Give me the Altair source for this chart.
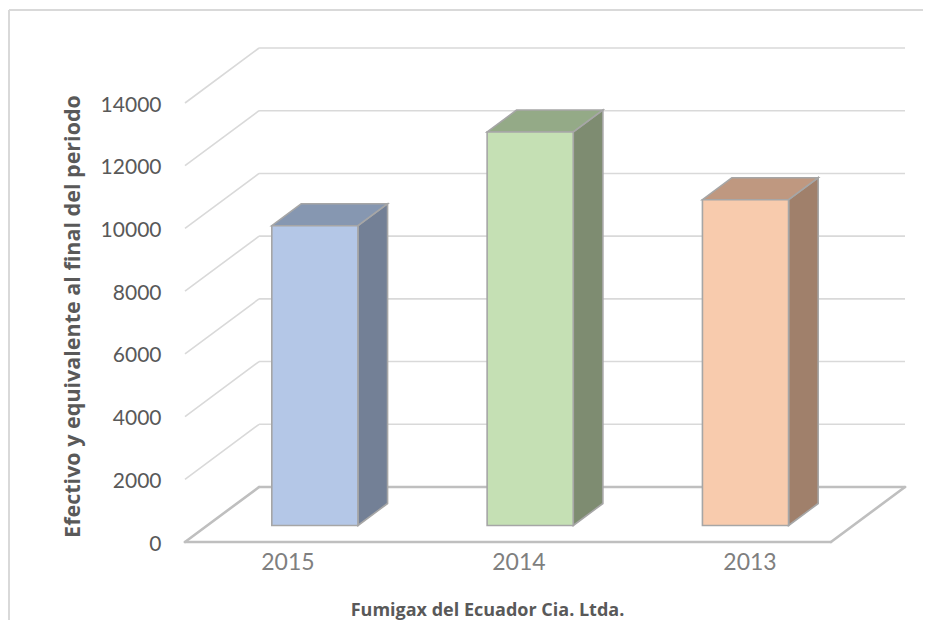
import altair as alt
import pandas as pd

# ---------------- data ----------------
years = ["2015", "2014", "2013"]
values = [9560, 12550, 10390]
front_colors = ["#B4C7E7", "#C5E0B4", "#F8CBAD"]
side_colors = ["#738096", "#7E8C71", "#A0806B"]
top_colors = ["#8697B1", "#94AA87", "#BF9880"]
y_ticks = [0, 2000, 4000, 6000, 8000, 10000, 12000, 14000]
y_title = "Efectivo y equivalente al final del periodo"
x_title = "Fumigax del Ecuador Cia. Ltda."

# ---------------- 3D styling constants ----------------
DX = 0.344      # floor depth, in category units (oblique projection)
DY = 1754       # floor depth, in value units
BAR_W = 0.4     # bar width as share of category (gap width 150%)
D0, D1 = 0.3, 0.7   # bar front / back depth fractions
LABEL0, LABEL_STEP = 0.478, 1.073
N = len(years)
FONT = "Lato"
TFONT = "Open Sans"
GRID = "#D9D9D9"
FLOOR = "#BFBFBF"
EDGE = "#A6A6A6"
TXT = "#595959"

# ---------------- geometry tables ----------------
front_rows, side_rows, top_rows = [], [], []
for i, (yr, v) in enumerate(zip(years, values)):
    xl = i + (1 - BAR_W) / 2
    xr = xl + BAR_W
    front_rows.append(dict(cat=yr, x=xl + D0 * DX, x2=xr + D0 * DX,
                           y=D0 * DY, y2=D0 * DY + v, c=front_colors[i]))
    for d in (D0, D1):
        side_rows.append(dict(cat=yr, x=xr + d * DX, y=d * DY, y2=d * DY + v,
                              c=side_colors[i]))
        top_rows.append(dict(cat=yr, y=d * DY + v, x=xl + d * DX, x2=xr + d * DX,
                             c=top_colors[i]))
front_df = pd.DataFrame(front_rows)
side_df = pd.DataFrame(side_rows)
top_df = pd.DataFrame(top_rows)

grid_rows = []
for t in y_ticks[1:]:
    grid_rows.append(dict(x=DX, x2=N + DX, y=t + DY, y2=t + DY))   # back wall
    grid_rows.append(dict(x=0, x2=DX, y=t, y2=t + DY))             # side wall
grid_df = pd.DataFrame(grid_rows)

floor_df = pd.DataFrame([
    dict(x=0, x2=N, y=0, y2=0),
    dict(x=N, x2=N + DX, y=0, y2=DY),
    dict(x=DX, x2=N + DX, y=DY, y2=DY),
    dict(x=0, x2=DX, y=0, y2=DY),
])

label_df = pd.DataFrame(dict(cat=years, x=[LABEL0 + i * LABEL_STEP for i in range(N)]))

# ---------------- scales / axes ----------------
xs = alt.Scale(domain=[0, N + DX], nice=False, zero=False)
ys = alt.Scale(domain=[0, y_ticks[-1] + DY], nice=False, zero=False)

x_axis = alt.Axis(labels=False, ticks=False, domain=False, grid=False,
                  title=x_title, titleX=302, titleY=73, titleAlign="center",
                  titleBaseline="alphabetic", titleFont=TFONT, titleFontSize=18,
                  titleFontWeight="bold", titleColor=TXT)
y_axis = alt.Axis(values=y_ticks, format="d", grid=False, domain=False, ticks=False,
                  tickSize=0, labelPadding=24, labelFont=FONT, labelFontSize=21,
                  labelColor=TXT, labelOffset=2,
                  title=y_title, titleFont=TFONT, titleFontSize=21.5, titleFontWeight="bold",
                  titleColor=TXT, titleAngle=270, titleX=-106, titleY=268,
                  titleAlign="center", titleBaseline="alphabetic")

X = alt.X("x:Q", scale=xs, axis=x_axis)
Y = alt.Y("y:Q", scale=ys, axis=y_axis)

grid = alt.Chart(grid_df).mark_rule(color=GRID, strokeWidth=1.6).encode(
    x=X, x2="x2:Q", y=Y, y2="y2:Q")
floor = alt.Chart(floor_df).mark_rule(color=FLOOR, strokeWidth=2.6, strokeCap="round").encode(
    x=X, x2="x2:Q", y=Y, y2="y2:Q")

front = alt.Chart(front_df).mark_rect(stroke=EDGE, strokeWidth=1.6).encode(
    x=X, x2="x2:Q", y=Y, y2="y2:Q", fill=alt.Fill("c:N", scale=None))
side = alt.Chart(side_df).mark_area(stroke=EDGE, strokeWidth=1.6).encode(
    x=X, y=Y, y2="y2:Q", detail="cat:N", fill=alt.Fill("c:N", scale=None))
top = alt.Chart(top_df).mark_area(orient="horizontal", stroke=EDGE, strokeWidth=1.6).encode(
    y=Y, x=X, x2="x2:Q", detail="cat:N", fill=alt.Fill("c:N", scale=None))

labels = alt.Chart(label_df).mark_text(font=FONT, fontSize=23, color="#7F7F7F",
                                       baseline="middle", align="center").encode(
    x=X, y=alt.value(515), text="cat:N")

border_top = alt.Chart(label_df).mark_rule(color=GRID, strokeWidth=1.6).encode(
    x=alt.value(-176), x2=alt.value(740), y=alt.value(-38))
border_left = alt.Chart(label_df).mark_rule(color=GRID, strokeWidth=1.6).encode(
    x=alt.value(-176), y=alt.value(-38), y2=alt.value(600))

chart = alt.layer(border_top, border_left, grid, floor, side, top, front, labels).properties(
    width=720, height=494,
    autosize=alt.AutoSizeParams(type="none"),
    padding={"left": 177, "top": 40, "right": 18, "bottom": 78},
    background="white",
).configure_view(stroke=None)

chart.save("out.html", embed_options={"renderer": "svg", "actions": False})
